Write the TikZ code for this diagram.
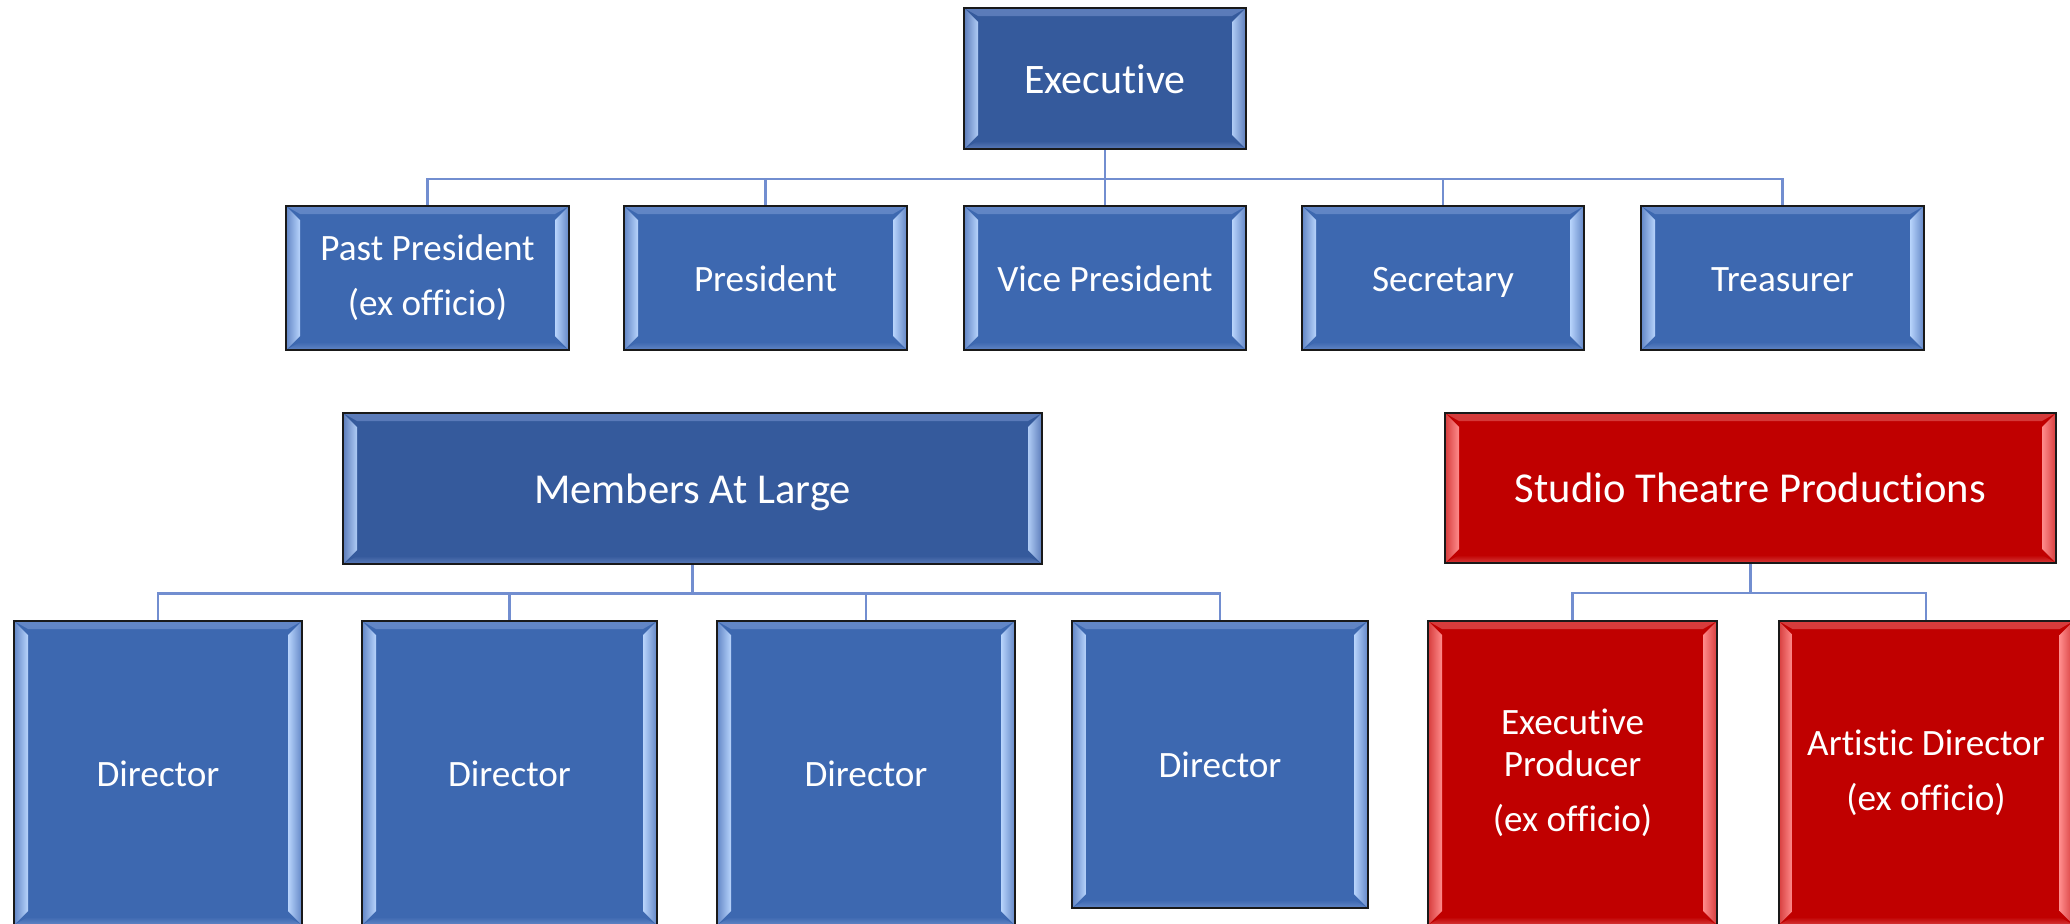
\documentclass[tikz,border=0pt]{standalone}
\usepackage{fontspec}
\setmainfont{Carlito}[Ligatures={NoCommon}]
\definecolor{blueD}{RGB}{53,90,156}
\definecolor{blueDe}{RGB}{92,124,186}
\definecolor{blueDl}{RGB}{176,204,245}
\definecolor{blueM}{RGB}{61,104,176}
\definecolor{blueMe}{RGB}{98,134,198}
\definecolor{blueMl}{RGB}{184,212,252}
\definecolor{redB}{RGB}{192,0,0}
\definecolor{redE}{RGB}{214,60,60}
\definecolor{redL}{RGB}{255,140,140}
\definecolor{linkc}{RGB}{114,142,208}
\tikzset{
 bevel/.style n args={3}{fill=#1, path picture={
   \shade[top color=#2, bottom color=#1]
     (path picture bounding box.north west) -- (path picture bounding box.north east)
     -- ([xshift=-7pt,yshift=-4pt]path picture bounding box.north east)
     -- ([xshift=7pt,yshift=-4pt]path picture bounding box.north west) -- cycle;
   \shade[bottom color=#2, top color=#1]
     (path picture bounding box.south west) -- (path picture bounding box.south east)
     -- ([xshift=-7pt,yshift=4pt]path picture bounding box.south east)
     -- ([xshift=7pt,yshift=4pt]path picture bounding box.south west) -- cycle;
   \shade[left color=#2, right color=#3]
     (path picture bounding box.north west)
     -- ([xshift=7pt,yshift=-7pt]path picture bounding box.north west)
     -- ([xshift=7pt,yshift=7pt]path picture bounding box.south west)
     -- (path picture bounding box.south west) -- cycle;
   \shade[left color=#3, right color=#2]
     (path picture bounding box.north east)
     -- ([xshift=-7pt,yshift=-7pt]path picture bounding box.north east)
     -- ([xshift=-7pt,yshift=7pt]path picture bounding box.south east)
     -- (path picture bounding box.south east) -- cycle;
 }},
 orgbox/.style={draw=black!90, line width=1pt, inner sep=0pt, text=white, align=center},
 darkbox/.style={orgbox, bevel={blueD}{blueDe}{blueDl}, font=\fontsize{21}{24}\selectfont},
 bluebox/.style={orgbox, bevel={blueM}{blueMe}{blueMl}, font=\fontsize{18.6}{21}\selectfont},
 redbox/.style={orgbox, bevel={redB}{redE}{redL}, font=\fontsize{18.6}{21}\selectfont},
 oneline/.style={text height=13pt, text depth=0pt},
 bigline/.style={text height=14.8pt, text depth=0pt},
 link/.style={draw=linkc, line width=1.3pt},
}
\begin{document}
\begin{tikzpicture}[x=0.5pt,y=-0.5pt]
\useasboundingbox (0,0) rectangle (2070,923);
% top level
\node[darkbox, bigline, minimum width=141pt, minimum height=70.5pt] (exec) at (1105,78.5) {Executive};
\node[bluebox, minimum width=141.5pt, minimum height=72pt] (past) at (427.5,278) {Past President\\[6.5pt](ex officio)};
\node[bluebox, oneline, minimum width=141.5pt, minimum height=72pt] (pres) at (765.5,278) {President};
\node[bluebox, oneline, minimum width=141pt, minimum height=72pt] (vp) at (1105,278) {Vice President};
\node[bluebox, oneline, minimum width=141pt, minimum height=72pt] (sec) at (1443,278) {Secretary};
\node[bluebox, oneline, minimum width=141.5pt, minimum height=72pt] (tre) at (1782.5,278) {Treasurer};
\foreach \c in {past,pres,vp,sec,tre}
  \draw[link] (exec.south) -- ++(0,29) -| (\c.north);
% members at large
\node[darkbox, bigline, font=\fontsize{21.3}{24}\selectfont, minimum width=349.5pt, minimum height=75.5pt] (mal) at (692.5,488.5) {Members At Large};
\node[bluebox, oneline, minimum width=144pt, minimum height=152pt] (d1) at (158,773) {Director};
\node[bluebox, oneline, minimum width=147.5pt, minimum height=152pt] (d2) at (509.5,773) {Director};
\node[bluebox, oneline, minimum width=149pt, minimum height=152pt] (d3) at (866,773) {Director};
\node[bluebox, oneline, minimum width=148pt, minimum height=143.5pt] (d4) at (1220,764.5) {Director};
\foreach \c in {d1,d2,d3,d4}
  \draw[link] (mal.south) -- ++(0,28.5) -| (\c.north);
% studio theatre
\node[redbox, bigline, font=\fontsize{21.3}{24}\selectfont, minimum width=305.5pt, minimum height=75pt] (stp) at (1750.5,488) {Studio Theatre Productions};
\node[redbox, minimum width=144.5pt, minimum height=152pt] (ep) at (1572.5,773) {Executive\\Producer\\[6.5pt](ex officio)};
\node[redbox, minimum width=147.5pt, minimum height=152pt] (ad) at (1926,773) {Artistic Director\\[6.5pt](ex officio)};
\foreach \c in {ep,ad}
  \draw[link] (stp.south) -- ++(0,29) -| (\c.north);
\end{tikzpicture}
\end{document}
